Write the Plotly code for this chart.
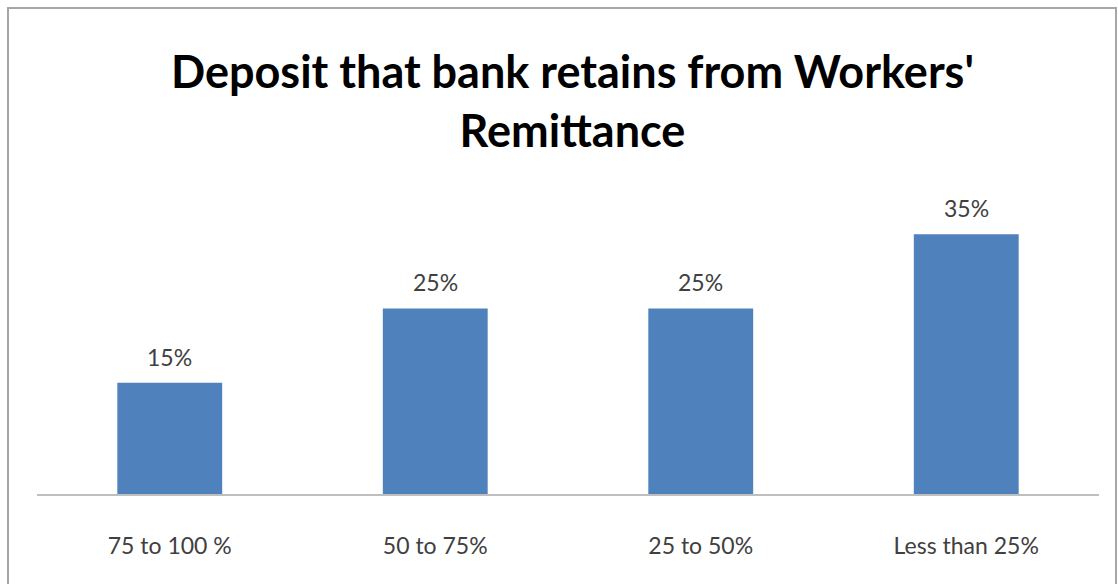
import plotly.graph_objects as go

categories = ["75 to 100 %", "50 to 75%", "25 to 50%", "Less than 25%"]
shares = [15, 25, 25, 35]
title_lines = ["Deposit that bank retains from Workers'", "Remittance"]

W, H = 1118, 584
BAR_COLOR = "#4F81BD"
FONT = "Lato, Open Sans, sans-serif"

fig = go.Figure(
    go.Bar(
        x=categories,
        y=shares,
        marker=dict(color=BAR_COLOR, line=dict(width=0)),
        hoverinfo="skip",
    )
)

# value labels above each bar
for cat, val in zip(categories, shares):
    fig.add_annotation(
        x=cat, y=val, text=f"{val}%", showarrow=False,
        yanchor="bottom", yshift=10,
        font=dict(family=FONT, size=23, color="#404040"),
    )

# two-line chart title
fig.add_annotation(
    xref="paper", yref="paper", x=(572 - 37) / (1099 - 37), y=1,
    yshift=197 - 42, xanchor="center", yanchor="top",
    text="<br>".join(title_lines), showarrow=False, align="center",
    font=dict(family=FONT, size=45, color="#000000", weight="bold"),
)

# chart frame
fig.add_shape(
    type="rect", xref="paper", yref="paper",
    x0=(8 - 37) / (1099 - 37), x1=(1116 - 37) / (1099 - 37),
    y0=-(H + 20 - 494) / (494 - 197), y1=1 + (197 - 8) / (494 - 197),
    line=dict(color="#A6A6A6", width=2), layer="below",
)

fig.update_layout(
    width=W, height=H,
    margin=dict(l=37, r=19, t=197, b=90),
    paper_bgcolor="white", plot_bgcolor="white",
    bargap=0.605,
    showlegend=False,
    xaxis=dict(
        showline=True, linecolor="#BFBFBF", linewidth=2,
        ticks="", showgrid=False, zeroline=False,
        tickfont=dict(family=FONT, size=23, color="#404040"),
        ticklabelstandoff=30,
    ),
    yaxis=dict(range=[0, 40], visible=False, showgrid=False, zeroline=False),
)

fig.write_html("out.html")
